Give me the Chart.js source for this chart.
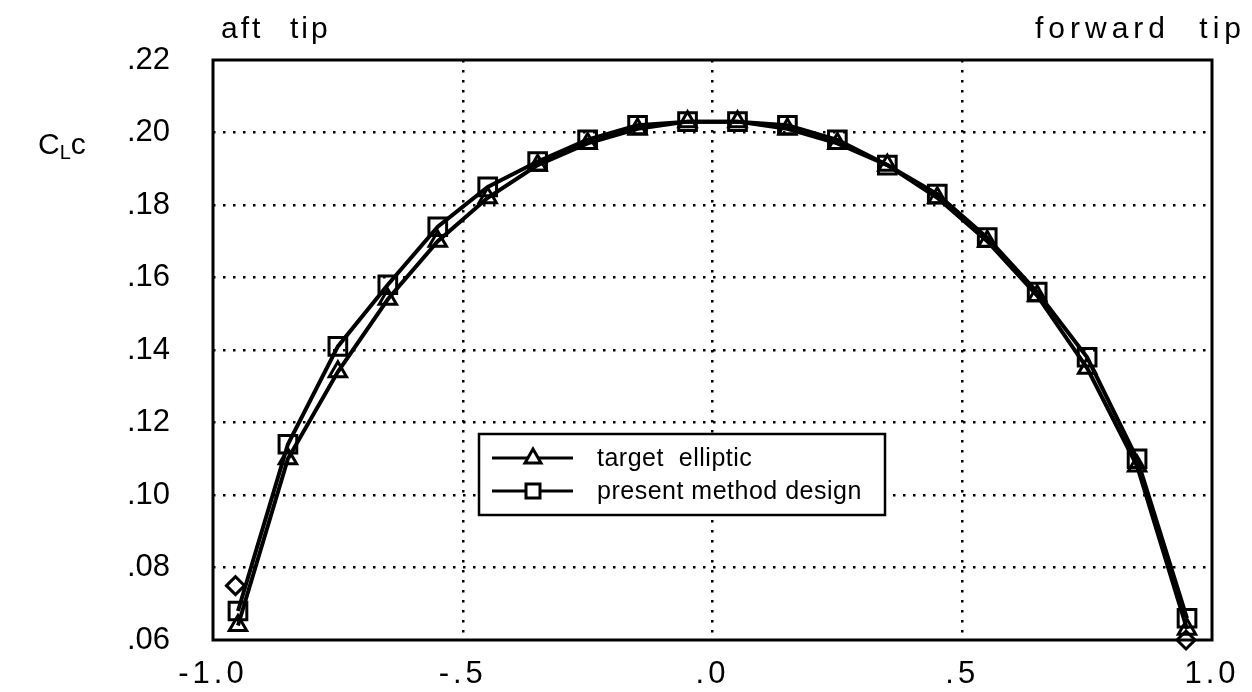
<!DOCTYPE html>
<html>
<head>
<meta charset="utf-8">
<script src="https://cdn.jsdelivr.net/npm/chart.js@4.4.0/dist/chart.umd.min.js"></script>
<style>
  html, body { margin: 0; padding: 0; background: #fff; }
</style>
</head>
<body>
<canvas id="grafico" width="1252" height="692"></canvas>
<script>
// Posiciones a lo largo de la envergadura
const posiciones = [-0.95, -0.85, -0.75, -0.65, -0.55, -0.45, -0.35, -0.25, -0.15, -0.05,
                     0.05,  0.15,  0.25,  0.35,  0.45,  0.55,  0.65,  0.75,  0.85,  0.95];

// Serie "target elliptic" (triangulos)
const objetivoEliptico = [0.064, 0.110, 0.134, 0.154, 0.170, 0.182, 0.191, 0.197, 0.201, 0.203,
                          0.203, 0.201, 0.197, 0.191, 0.182, 0.170, 0.155, 0.135, 0.108, 0.063];

// Serie "present method design" (cuadrados)
const metodoPresente = [0.068, 0.114, 0.141, 0.158, 0.174, 0.185, 0.192, 0.198, 0.202, 0.203,
                        0.203, 0.202, 0.198, 0.191, 0.183, 0.171, 0.156, 0.138, 0.110, 0.066];

// Marcas sueltas (rombos) en las puntas
const posExtremos = [-0.955, 0.948];
const valExtremos = [0.075, 0.060];

// Ticks de los ejes
const ticksX = [-1.0, -0.5, 0, 0.5, 1.0];
const etiquetasX = ['-1.0', '-.5', '.0', '.5', '1.0'];
const ticksY = [0.06, 0.08, 0.10, 0.12, 0.14, 0.16, 0.18, 0.20, 0.22];
const etiquetasY = ['.06', '.08', '.10', '.12', '.14', '.16', '.18', '.20', '.22'];

const fuente = '"Liberation Sans", Arial, Helvetica, sans-serif';

const aPuntos = (xs, ys) => xs.map((x, i) => ({ x: x, y: ys[i] }));

// Marco, textos superiores, etiqueta del eje Y y leyenda
const decoracion = {
  id: 'decoracion',
  beforeDraw(chart) {
    // las etiquetas del eje X (z=0) se dibujan con letras espaciadas
    chart.ctx.letterSpacing = '4px';
  },
  beforeDatasetsDraw(chart) {
    const { ctx, chartArea: a } = chart;
    ctx.letterSpacing = '0px';
    ctx.save();
    ctx.strokeStyle = '#000';
    ctx.lineWidth = 3;
    ctx.strokeRect(a.left, a.top, a.right - a.left, a.bottom - a.top);
    ctx.restore();
  },
  afterDraw(chart) {
    const { ctx, chartArea: a } = chart;
    ctx.save();
    ctx.fillStyle = '#000';
    ctx.textBaseline = 'alphabetic';
    ctx.font = '30px ' + fuente;
    ctx.letterSpacing = '3px';
    ctx.textAlign = 'left';
    ctx.fillText('aft', a.left + 8, 38);
    ctx.fillText('tip', a.left + 77, 38);
    ctx.letterSpacing = '5px';
    ctx.textAlign = 'right';
    ctx.fillText('tip', 1246, 38);
    ctx.fillText('forward', 1170, 38);

    // C_L c
    ctx.letterSpacing = '0px';
    ctx.textAlign = 'left';
    let x = 38;
    ctx.font = '30px ' + fuente;
    ctx.fillText('C', x, 154);
    x += ctx.measureText('C').width;
    ctx.font = '20px ' + fuente;
    ctx.fillText('L', x, 159);
    x += ctx.measureText('L').width;
    ctx.font = '30px ' + fuente;
    ctx.fillText('c', x, 154);

    // leyenda
    const bx = a.left + 266, by = a.top + 374, bw = 406, bh = 81;
    ctx.fillStyle = '#fff';
    ctx.fillRect(bx, by, bw, bh);
    ctx.strokeStyle = '#000';
    ctx.lineWidth = 2.5;
    ctx.strokeRect(bx, by, bw, bh);
    ctx.letterSpacing = '0.5px';
    ctx.font = '25px ' + fuente;
    ctx.textBaseline = 'middle';
    const filas = [chart.data.datasets[0], chart.data.datasets[1]];
    filas.forEach((ds, i) => {
      const cy = by + 24 + i * 33;
      ctx.strokeStyle = '#000';
      ctx.lineWidth = 3;
      ctx.beginPath();
      ctx.moveTo(bx + 13, cy);
      ctx.lineTo(bx + 94, cy);
      ctx.stroke();
      const mx = bx + 54;
      ctx.lineWidth = 3;
      ctx.beginPath();
      if (ds.pointStyle === 'triangle') {
        ctx.moveTo(mx, cy - 9);
        ctx.lineTo(mx + 8, cy + 5);
        ctx.lineTo(mx - 8, cy + 5);
        ctx.closePath();
      } else {
        ctx.rect(mx - 7, cy - 7, 14, 14);
      }
      ctx.fillStyle = '#fff';
      ctx.fill();
      ctx.stroke();
      ctx.fillStyle = '#000';
      ctx.fillText(ds.label, bx + 118, cy + 1);
    });
    ctx.restore();
  }
};

new Chart(document.getElementById('grafico'), {
  type: 'line',
  data: {
    datasets: [
      {
        label: 'target  elliptic',
        data: aPuntos(posiciones, objetivoEliptico),
        borderColor: '#000',
        borderWidth: 4,
        pointStyle: 'triangle',
        pointRadius: 10,
        pointBorderWidth: 3,
        pointBorderColor: '#000',
        pointBackgroundColor: 'rgba(0,0,0,0)',
        clip: false
      },
      {
        label: 'present method design',
        data: aPuntos(posiciones, metodoPresente),
        borderColor: '#000',
        borderWidth: 4,
        pointStyle: 'rect',
        pointRadius: 12.5,
        pointBorderWidth: 3,
        pointBorderColor: '#000',
        pointBackgroundColor: 'rgba(0,0,0,0)',
        clip: false
      },
      {
        label: 'extremos',
        data: aPuntos(posExtremos, valExtremos),
        showLine: false,
        pointStyle: 'rectRot',
        pointRadius: 9,
        pointBorderWidth: 3,
        pointBorderColor: '#000',
        pointBackgroundColor: 'rgba(0,0,0,0)',
        clip: false
      }
    ]
  },
  options: {
    responsive: false,
    animation: false,
    layout: { padding: { left: 0, right: 40, top: 0, bottom: 0 } },
    plugins: {
      legend: { display: false },
      tooltip: { enabled: false }
    },
    scales: {
      x: {
        type: 'linear',
        min: -1,
        max: 1,
        afterBuildTicks: s => { s.ticks = ticksX.map(v => ({ value: v })); },
        afterFit: s => { s.height = 52; },
        ticks: {
          z: 0,
          color: '#000',
          font: { family: fuente, size: 31 },
          padding: 16,
          maxRotation: 0,
          autoSkip: false,
          callback: (v, i) => etiquetasX[i]
        },
        grid: {
          drawTicks: false,
          lineWidth: 2.5,
          color: c => (c.tick && (c.tick.value === -1 || c.tick.value === 1)) ? 'rgba(0,0,0,0)' : '#000'
        },
        border: { display: false, dash: [2.5, 7.5] }
      },
      arriba: {
        type: 'linear',
        position: 'top',
        min: -1,
        max: 1,
        afterFit: s => { s.height = 60; },
        ticks: { display: false },
        grid: { display: false, drawTicks: false },
        border: { display: false }
      },
      y: {
        type: 'linear',
        min: 0.06,
        max: 0.22,
        afterBuildTicks: s => { s.ticks = ticksY.map(v => ({ value: v })); },
        afterFit: s => { s.width = 213; },
        ticks: {
          z: 1,
          color: '#000',
          font: { family: fuente, size: 31, lineHeight: 1 },
          padding: 0,
          autoSkip: false,
          callback: (v, i) => etiquetasY[i]
        },
        grid: {
          drawTicks: true,
          tickLength: 43,
          tickColor: 'rgba(0,0,0,0)',
          lineWidth: 2.5,
          color: c => (c.tick && (c.tick.value === 0.06 || c.tick.value === 0.22)) ? 'rgba(0,0,0,0)' : '#000'
        },
        border: { display: false, dash: [2.5, 7.5] }
      }
    }
  },
  plugins: [decoracion]
});
</script>
</body>
</html>
